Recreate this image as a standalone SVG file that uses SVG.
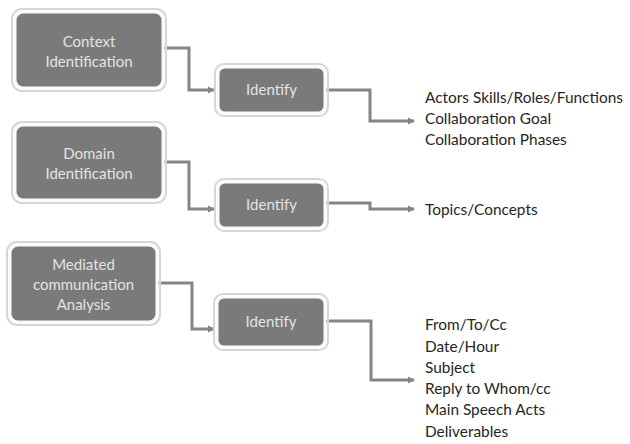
<svg xmlns="http://www.w3.org/2000/svg" width="630" height="444" viewBox="0 0 630 444">
<defs>
<style>
.box{fill:#7a7a7a;stroke:#fbfbfb;stroke-width:3}
.shadow{fill:none;stroke:#d6d6d6;stroke-width:2}
.bt{font-family:Lato,"Open Sans","Liberation Sans",sans-serif;font-size:15px;fill:#e3e3e3;text-anchor:middle}
.rt{font-family:Lato,"Open Sans","Liberation Sans",sans-serif;font-size:15.4px;fill:#262626}
.conn{fill:none;stroke:#858585;stroke-width:3;marker-end:url(#ah)}
</style>
<marker id="ah" markerWidth="8" markerHeight="8" refX="6" refY="4" orient="auto" markerUnits="userSpaceOnUse">
<path d="M0,0.5 L7,4 L0,7.5 Z" fill="#858585"/>
</marker>
</defs>
<rect width="630" height="444" fill="#ffffff"/>
<g id="connectors">
<path class="conn" d="M163,48 H189 V90 H214"/>
<path class="conn" d="M325,90 H370 V121 H414"/>
<path class="conn" d="M163,162 H189 V209 H214"/>
<path class="conn" d="M325,203 H370 V209 H414"/>
<path class="conn" d="M157,283 H192 V329 H214"/>
<path class="conn" d="M325,321 H371 V380 H414"/>
</g>
<g id="context">
<rect class="shadow" x="12" y="9" width="154" height="82" rx="10"/>
<rect class="box" x="15" y="12" width="148" height="76" rx="8"/>
<text class="bt" x="89" y="47">Context</text>
<text class="bt" x="89" y="67">Identification</text>
</g>
<g id="identify1">
<rect class="shadow" x="215" y="64" width="113" height="52" rx="9"/>
<rect class="box" x="218" y="67" width="107" height="46" rx="7"/>
<text class="bt" x="271.5" y="95">Identify</text>
</g>
<g id="out1">
<text class="rt" x="425" y="103">Actors Skills/Roles/Functions</text>
<text class="rt" x="425" y="124">Collaboration Goal</text>
<text class="rt" x="425" y="145">Collaboration Phases</text>
</g>
<g id="domain">
<rect class="shadow" x="12" y="122" width="154" height="81" rx="10"/>
<rect class="box" x="15" y="125" width="148" height="75" rx="8"/>
<text class="bt" x="89" y="159">Domain</text>
<text class="bt" x="89" y="179">Identification</text>
</g>
<g id="identify2">
<rect class="shadow" x="215" y="179" width="113" height="52" rx="9"/>
<rect class="box" x="218" y="182" width="107" height="46" rx="7"/>
<text class="bt" x="271.5" y="210">Identify</text>
</g>
<g id="out2">
<text class="rt" x="425" y="215">Topics/Concepts</text>
</g>
<g id="mediated">
<rect class="shadow" x="7" y="242" width="153" height="83" rx="10"/>
<rect class="box" x="10" y="245" width="147" height="77" rx="8"/>
<text class="bt" x="83.5" y="270">Mediated</text>
<text class="bt" x="83.5" y="290">communication</text>
<text class="bt" x="83.5" y="310">Analysis</text>
</g>
<g id="identify3">
<rect class="shadow" x="214" y="294" width="114" height="56" rx="9"/>
<rect class="box" x="217" y="297" width="108" height="50" rx="7"/>
<text class="bt" x="271" y="327">Identify</text>
</g>
<g id="out3">
<text class="rt" x="425" y="330">From/To/Cc</text>
<text class="rt" x="425" y="352">Date/Hour</text>
<text class="rt" x="425" y="373">Subject</text>
<text class="rt" x="425" y="394">Reply to Whom/cc</text>
<text class="rt" x="425" y="415">Main Speech Acts</text>
<text class="rt" x="425" y="437">Deliverables</text>
</g>
</svg>
